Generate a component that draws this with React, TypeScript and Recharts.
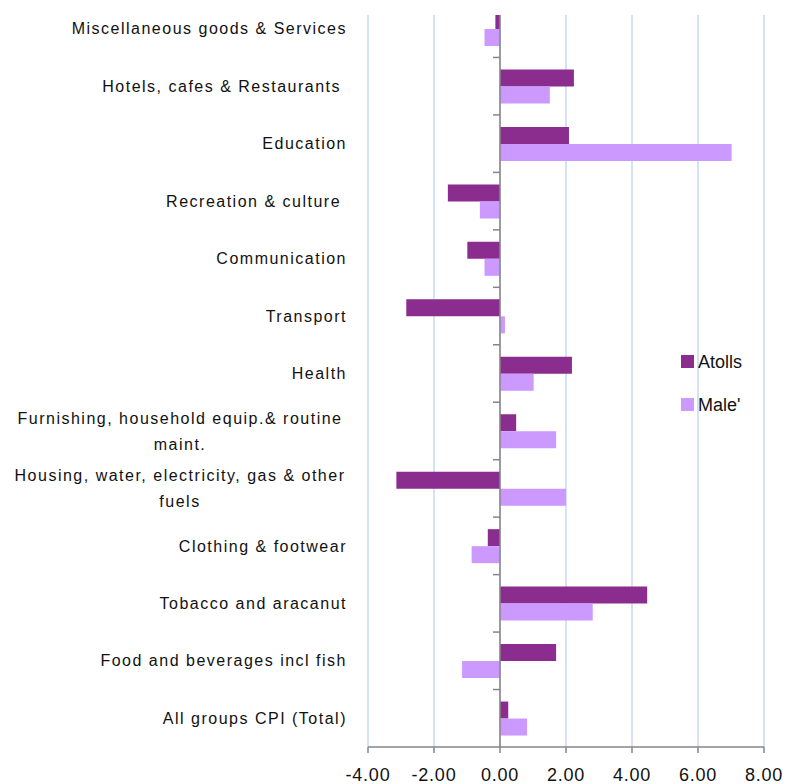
import { BarChart, Bar, XAxis, YAxis, CartesianGrid, ReferenceLine, Legend } from "recharts"

// Categories, top to bottom as drawn
const CATEGORIES = [
  "Miscellaneous goods & Services",
  "Hotels, cafes & Restaurants ",
  "Education",
  "Recreation & culture ",
  "Communication",
  "Transport",
  "Health",
  "Furnishing, household equip.& routine maint.",
  "Housing, water, electricity, gas & other fuels",
  "Clothing & footwear",
  "Tobacco and aracanut",
  "Food and beverages incl fish",
  "All groups CPI (Total)",
]

const ATOLLS = [-0.14, 2.24, 2.09, -1.58, -0.99, -2.84, 2.18, 0.49, -3.14, -0.37, 4.46, 1.7, 0.25]
const MALE = [-0.47, 1.51, 7.02, -0.61, -0.47, 0.15, 1.02, 1.7, 2.0, -0.86, 2.81, -1.15, 0.82]

const X_TICKS = [-4, -2, 0, 2, 4, 6, 8]

const SERIES = [
  { key: "atolls", name: "Atolls", color: "#8A2D8E" },
  { key: "male", name: "Male'", color: "#CC99FF" },
]

const FONT = "'Liberation Sans', Arial, sans-serif"
const TEXT = "#111"
const AXIS = "#868686"

const W = 787
const H = 784
const PLOT_LEFT = 368
const PLOT_RIGHT = 764
const PLOT_BOTTOM = 747
const ZERO_X = PLOT_LEFT + ((PLOT_RIGHT - PLOT_LEFT) * 4) / 12
const BAND = PLOT_BOTTOM / CATEGORIES.length
const LABEL_RIGHT = 347
const LABEL_CENTER = 180

const data = CATEGORIES.map((name, i) => ({ name, atolls: ATOLLS[i], male: MALE[i] }))

// Excel-like word wrap for long category names
function wrap(label: string, max = 40): string[] {
  if (label.length <= max) return [label]
  const lines: string[] = []
  let cur = ""
  label.split(" ").forEach(w => {
    const next = cur ? cur + " " + w : w
    if (next.length > max && cur) {
      lines.push(cur)
      cur = w
    } else {
      cur = next
    }
  })
  if (cur) lines.push(cur)
  return lines
}

function CategoryTick(props: any) {
  const { y, payload, index } = props
  const lines = wrap(payload.value)
  const textStyle = { fontFamily: FONT, fontSize: 16, letterSpacing: 1.5, fill: TEXT, whiteSpace: "pre" as const }
  return (
    <g>
      {index > 0 && (
        <line x1={ZERO_X - 7} x2={ZERO_X} y1={y - BAND / 2} y2={y - BAND / 2} stroke={AXIS} strokeWidth={1.5} />
      )}
      {lines.length === 1 ? (
        <text x={LABEL_RIGHT} y={y} dy="0.355em" textAnchor="end" style={textStyle}>
          {lines[0]}
        </text>
      ) : (
        <text textAnchor="middle" style={textStyle}>
          {lines.map((l, i) => (
            <tspan key={i} x={LABEL_CENTER} y={y + (i - (lines.length - 1) / 2) * 26} dy="0.355em">
              {l}
            </tspan>
          ))}
        </text>
      )}
    </g>
  )
}

function LegendContent() {
  return (
    <div style={{ fontFamily: FONT, fontSize: 18, color: TEXT }}>
      {SERIES.map((s, i) => (
        <div key={s.key} style={{ display: "flex", alignItems: "center", height: 13, marginBottom: i === 0 ? 30 : 0 }}>
          <span style={{ display: "inline-block", width: 13, height: 13, background: s.color, marginRight: 4 }} />
          <span style={{ lineHeight: "13px", position: "relative", top: 1 }}>{s.name}</span>
        </div>
      ))}
    </div>
  )
}

export default function App() {
  return (
    <div style={{ position: "absolute", left: 0, top: 15, width: W, height: H - 15, overflow: "hidden", background: "#fff" }}>
      <div style={{ marginTop: -15 }}>
        <BarChart
          width={W}
          height={H}
          data={data}
          layout="vertical"
          margin={{ top: 0, right: W - PLOT_RIGHT, bottom: 0, left: 0 }}
          barGap={0}
          barSize={17}
        >
          <CartesianGrid horizontal={false} stroke="#C6D9F1" strokeWidth={1.5} />
          <XAxis
            type="number"
            domain={[-4, 8]}
            ticks={X_TICKS}
            interval={0}
            allowDataOverflow
            tickFormatter={(v: number) => v.toFixed(2)}
            height={H - PLOT_BOTTOM}
            stroke={AXIS}
            strokeWidth={1.5}
            tickSize={6}
            tickMargin={15}
            tick={{ fill: TEXT, fontSize: 18, fontFamily: FONT, letterSpacing: 0.75 }}
          />
          <YAxis
            type="category"
            dataKey="name"
            width={PLOT_LEFT}
            axisLine={false}
            tickLine={false}
            interval={0}
            tick={(p: any) => <CategoryTick {...p} />}
          />
          {SERIES.map(s => (
            <Bar key={s.key} dataKey={s.key} name={s.name} fill={s.color} isAnimationActive={false} />
          ))}
          <ReferenceLine x={0} stroke={AXIS} strokeWidth={1.5} />
          <Legend
            layout="vertical"
            align="center"
            verticalAlign="middle"
            content={() => <LegendContent />}
            wrapperStyle={{ left: 681, top: 355, width: "auto" }}
          />
        </BarChart>
      </div>
    </div>
  )
}
